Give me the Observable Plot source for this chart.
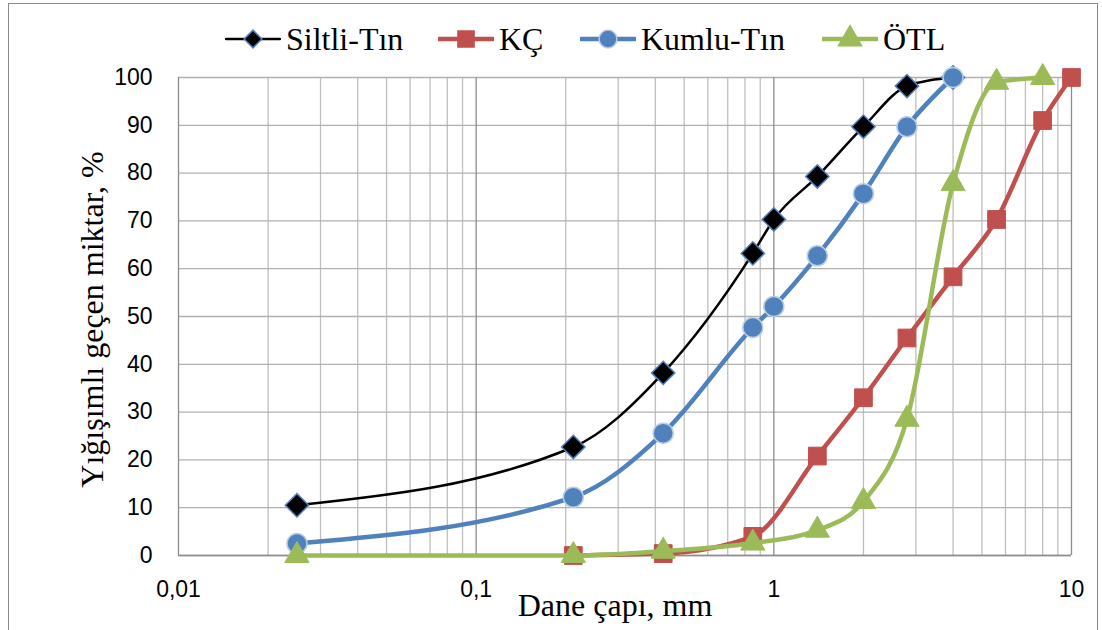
<!DOCTYPE html>
<html>
<head>
<meta charset="utf-8">
<script src="https://cdn.jsdelivr.net/npm/d3@7"></script>
<script src="https://cdn.jsdelivr.net/npm/@observablehq/plot@0.6"></script>
<style>
  body { margin: 0; background: #fff; }
  #wrap { position: relative; width: 1102px; height: 630px; overflow: hidden; }
  #frame { position: absolute; left: 8px; top: 3px; width: 1090px; height: 660px; border: 1.5px solid #8a8a8a; box-sizing: border-box; pointer-events: none; }
  .leg { position: absolute; top: 22px; height: 34px; display: flex; align-items: center; font-family: "Liberation Serif", "Times New Roman", serif; font-size: 32px; color: #000; white-space: nowrap; }
  .leg svg { margin-right: 5px; }
</style>
</head>
<body>
<div id="wrap">
  <div id="chart"></div>
  <div id="legend"></div>
  <div id="frame"></div>
</div>
<script>
// ---- data (grain size in mm, percent passing) ----
const seriesNames = ["Siltli-Tın", "KÇ", "Kumlu-Tın", "ÖTL"];

const siltliX = [0.025, 0.212, 0.425, 0.85, 1.0, 1.4, 2.0, 2.8, 4.0];
const siltliY = [10.5, 22.7, 38.2, 63.2, 70.3, 79.3, 89.7, 98.2, 100];

const kcX = [0.212, 0.425, 0.85, 1.4, 2.0, 2.8, 4.0, 5.6, 8.0, 10];
const kcY = [0, 0.4, 4.0, 20.8, 33.0, 45.5, 58.3, 70.3, 91.0, 100];

const kumluX = [0.025, 0.212, 0.425, 0.85, 1.0, 1.4, 2.0, 2.8, 4.0];
const kumluY = [2.5, 12.2, 25.6, 47.7, 52.1, 62.7, 75.7, 89.7, 100];

const otlX = [0.025, 0.212, 0.425, 0.85, 1.4, 2.0, 2.8, 4.0, 5.6, 8.0];
const otlY = [0, 0, 0.9, 2.6, 5.3, 11.3, 28.5, 77.8, 99, 100];

const yTicks = [0, 10, 20, 30, 40, 50, 60, 70, 80, 90, 100];
const xMajor = [0.01, 0.1, 1, 10];
const xMajorLabels = ["0,01", "0,1", "1", "10"];

// minor gridlines 2..9 for each decade
const xMinor = [];
for (const d of [0.01, 0.1, 1]) for (let k = 2; k <= 9; k++) xMinor.push(+(d * k).toPrecision(3));

const toRows = (xs, ys, name) => xs.map((x, i) => ({x, y: ys[i], s: name}));
const siltli = toRows(siltliX, siltliY, seriesNames[0]);
const kc = toRows(kcX, kcY, seriesNames[1]);
const kumlu = toRows(kumluX, kumluY, seriesNames[2]);
const otl = toRows(otlX, otlY, seriesNames[3]);

const C = {black: "#000000", red: "#C0504D", blue: "#4F81BD", green: "#9BBB59"};
const curve = "monotone-x";

const plot = Plot.plot({
  width: 1102,
  height: 630,
  marginLeft: 178,
  marginRight: 31,
  marginTop: 77,
  marginBottom: 75,
  style: {fontFamily: "'Liberation Sans', Arial, sans-serif", fontSize: "23px", color: "#000", background: "transparent"},
  x: {type: "log", domain: [0.01, 10]},
  y: {domain: [0, 100]},
  marks: [
    Plot.ruleX(xMinor, {stroke: "#bfbfbf", strokeWidth: 1.3, strokeOpacity: 1}),
    Plot.ruleY(yTicks, {stroke: "#b0b0b0", strokeWidth: 1.3, strokeOpacity: 1}),
    Plot.ruleX(xMajor, {stroke: "#8c8c8c", strokeWidth: 1.3, strokeOpacity: 1}),
    Plot.ruleY([0], {stroke: "#8c8c8c", strokeWidth: 1.5}),
    Plot.axisY({ticks: yTicks, tickSize: 0, tickPadding: 26, label: null, fontSize: 23}),
    Plot.axisX({ticks: xMajor, tickSize: 0, tickPadding: 25, label: null, fontSize: 23,
      tickFormat: d => xMajorLabels[xMajor.findIndex(v => Math.abs(v - d) < 1e-9)]}),
    // Siltli-Tın
    Plot.line(siltli, {x: "x", y: "y", stroke: C.black, strokeWidth: 2.5, curve}),
    Plot.dot(siltli, {x: "x", y: "y", symbol: "diamond2", r: 10.5, fill: C.black, stroke: C.blue, strokeWidth: 1.5}),
    // KÇ
    Plot.line(kc, {x: "x", y: "y", stroke: C.red, strokeWidth: 4.5, curve}),
    Plot.dot(kc, {x: "x", y: "y", symbol: "square", r: 10, fill: C.red, stroke: C.red, strokeWidth: 1}),
    // Kumlu-Tın
    Plot.line(kumlu, {x: "x", y: "y", stroke: C.blue, strokeWidth: 4.5, curve}),
    Plot.dot(kumlu, {x: "x", y: "y", symbol: "circle", r: 10, fill: C.blue, stroke: "#b9cde5", strokeWidth: 1.5}),
    // ÖTL
    Plot.line(otl, {x: "x", y: "y", stroke: C.green, strokeWidth: 4.5, curve}),
    Plot.dot(otl, {x: "x", y: "y", symbol: "triangle", r: 9, fill: C.green, stroke: C.green, strokeWidth: 1}),
    // axis titles
    Plot.text(["Dane çapı, mm"], {frameAnchor: "bottom", dx: -10, dy: 50, lineAnchor: "middle", textAnchor: "middle",
      fontFamily: "'Liberation Serif', 'Times New Roman', serif", fontSize: 32, fill: "#000"}),
    Plot.text(["Yığışımlı geçen miktar, %"], {frameAnchor: "left", rotate: -90, dx: -86, dy: 3, lineAnchor: "middle", textAnchor: "middle",
      fontFamily: "'Liberation Serif', 'Times New Roman', serif", fontSize: 32, fill: "#000"})
  ]
});
document.getElementById("chart").appendChild(plot);

// ---- legend ----
const legendItems = [
  {name: seriesNames[0], color: C.black, w: 2.5, sym: "diamond", fill: C.black, stroke: C.blue, left: 225},
  {name: seriesNames[1], color: C.red, w: 4.5, sym: "square", fill: C.red, stroke: C.red, left: 438},
  {name: seriesNames[2], color: C.blue, w: 4.5, sym: "circle", fill: C.blue, stroke: "#b9cde5", left: 580},
  {name: seriesNames[3], color: C.green, w: 4.5, sym: "triangle", fill: C.green, stroke: C.green, left: 822}
];
const symGen = {diamond: [d3.symbolDiamond2, 200], square: [d3.symbolSquare, 260], circle: [d3.symbolCircle, 250], triangle: [d3.symbolTriangle, 230]};
const legend = document.getElementById("legend");
for (const it of legendItems) {
  const div = document.createElement("div");
  div.className = "leg";
  div.style.left = it.left + "px";
  const [type, size] = symGen[it.sym];
  const path = d3.symbol(type, size)();
  div.innerHTML = `<svg width="56" height="30" viewBox="0 0 56 30">
    <line x1="1" x2="55" y1="15" y2="15" stroke="${it.color}" stroke-width="${it.w}" stroke-linecap="round"/>
    <path d="${path}" transform="translate(28,15)" fill="${it.fill}" stroke="${it.stroke}" stroke-width="1.5"/>
  </svg><span>${it.name}</span>`;
  legend.appendChild(div);
}
</script>
</body>
</html>
